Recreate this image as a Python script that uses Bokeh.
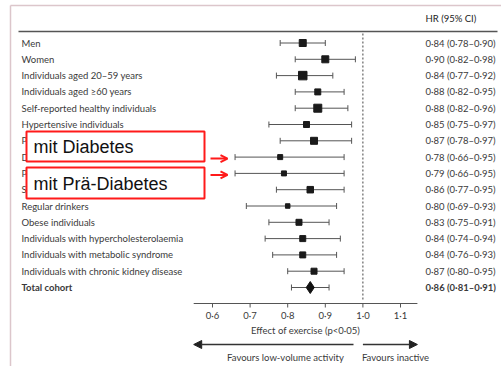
from bokeh.plotting import figure
from bokeh.models import Range1d, ColumnDataSource, Arrow, NormalHead, OpenHead
from bokeh.core.properties import value
from bokeh.embed import file_html
from bokeh.resources import INLINE

# Subgroups, hazard ratios and 95% confidence limits
groups = [
    "Men", "Women", "Individuals aged 20–59 years", "Individuals aged ≥60 years",
    "Self-reported healthy individuals", "Hypertensive individuals",
    "Prehypertensive individuals", "Diabetic individuals", "Prediabetic individuals",
    "Smokers", "Regular drinkers", "Obese individuals",
    "Individuals with hypercholesterolaemia", "Individuals with metabolic syndrome",
    "Individuals with chronic kidney disease", "Total cohort",
]
hr = [0.84, 0.90, 0.84, 0.88, 0.88, 0.85, 0.87, 0.78, 0.79, 0.86, 0.80, 0.83, 0.84, 0.84, 0.87, 0.86]
ci_low = [0.78, 0.82, 0.77, 0.82, 0.82, 0.75, 0.78, 0.66, 0.66, 0.77, 0.69, 0.75, 0.74, 0.76, 0.80, 0.81]
ci_high = [0.90, 0.98, 0.92, 0.95, 0.96, 0.97, 0.97, 0.95, 0.95, 0.95, 0.93, 0.91, 0.94, 0.93, 0.95, 0.91]
# relative weight of each subgroup (marker size in px)
weight = [7, 7, 8.5, 6, 8, 6, 7, 5, 5, 6.5, 4.5, 6, 6, 6, 6, 12]
x_ticks = [0.6, 0.7, 0.8, 0.9, 1.0, 1.1]
callouts = ["mit Diabetes", "mit Prä-Diabetes"]
callout_rows = [7, 8]

W, H = 501, 366
PX_PER_UNIT = 376.0          # pixels per 1.0 HR
X0_PX, X0_VAL = 212.0, 0.6   # where 0.6 sits on the canvas


def xv(px):
    """canvas pixel -> HR-axis value"""
    return X0_VAL + (px - X0_PX) / PX_PER_UNIT


def fmt(v):
    return f"{v:.2f}".replace(".", "·")


ROW0, ROW_STEP = 42.5, 16.3
rows_y = [ROW0 + i * ROW_STEP for i in range(len(groups))]

p = figure(width=W, height=H, output_backend="svg", toolbar_location=None,
           x_range=Range1d(xv(0), xv(W)), y_range=Range1d(H, 0),
           min_border=0, outline_line_color=None, background_fill_color="white")
p.axis.visible = False
p.grid.visible = False

FONT = value("Lato")
TXT = "#3a3a3a"

# page frame
p.segment(x0=[xv(10), xv(10)], y0=[5, 5], x1=[xv(W), xv(10)], y1=[5, H],
          line_color="#dcc6cb", line_width=1.5)

# header
p.text(x=[xv(425)], y=[18], text=["HR (95% CI)"], text_font=FONT,
       text_font_size="9.5px", text_color="#222", text_baseline="middle")
p.segment(x0=[xv(18)], y0=[31], x1=[xv(497)], y1=[31], line_color="#555", line_width=1.3)

# row labels
n = len(groups)
styles = ["normal"] * (n - 1) + ["bold"]
src = ColumnDataSource(dict(
    y=rows_y, name=groups, hr=hr, lo=ci_low, hi=ci_high, size=weight, style=styles,
    lab=[f"{fmt(h)} ({fmt(l)}–{fmt(u)})" for h, l, u in zip(hr, ci_low, ci_high)],
    xl=[xv(21)] * n, xr=[xv(425)] * n,
    ct=[y - 3 for y in rows_y], cb=[y + 3 for y in rows_y],
))
p.text(x="xl", y="y", text="name", source=src, text_font=FONT, text_font_size="9.5px",
       text_color=TXT, text_baseline="middle", text_font_style="style")
p.text(x="xr", y="y", text="lab", source=src, text_font=FONT, text_font_size="9.5px",
       text_color=TXT, text_baseline="middle", text_font_style="style")

# reference line at HR = 1
p.segment(x0=[1.0], y0=[33], x1=[1.0], y1=[300], line_color="#444",
          line_width=1, line_dash="2 2")

# confidence intervals with caps
p.segment(x0="lo", y0="y", x1="hi", y1="y", source=src, line_color="#555", line_width=1)
p.segment(x0="lo", y0="ct", x1="lo", y1="cb", source=src, line_color="#555", line_width=1)
p.segment(x0="hi", y0="ct", x1="hi", y1="cb", source=src, line_color="#555", line_width=1)

# point estimates: squares for subgroups, diamond for the total cohort
sq = ColumnDataSource(dict(x=hr[:-1], y=rows_y[:-1], s=weight[:-1]))
p.scatter(x="x", y="y", size="s", marker="square", source=sq,
          fill_color="#1a1a1a", line_color="#1a1a1a")
p.scatter(x=[hr[-1]], y=[rows_y[-1]], size=weight[-1], marker="diamond",
          fill_color="#111", line_color="#111")

# x axis
AX_Y = 303
p.segment(x0=[0.55], y0=[AX_Y], x1=[1.145], y1=[AX_Y], line_color="#555", line_width=1)
p.segment(x0=x_ticks, y0=[AX_Y] * len(x_ticks), x1=x_ticks, y1=[AX_Y + 4] * len(x_ticks),
          line_color="#555", line_width=1)
p.text(x=x_ticks, y=[315] * len(x_ticks), text=[f"{t:.1f}".replace(".", "·") for t in x_ticks],
       text_font=FONT, text_font_size="9.5px", text_color=TXT,
       text_align="center", text_baseline="middle")
p.text(x=[xv(305)], y=[330], text=["Effect of exercise (p<0·05)"], text_font=FONT,
       text_font_size="9.5px", text_color=TXT, text_align="center", text_baseline="middle")

# direction arrows
p.add_layout(Arrow(end=NormalHead(size=8, fill_color="#222", line_color="#222"),
                   x_start=xv(353), y_start=344, x_end=0.55, y_end=344,
                   line_color="#333", line_width=1.3))
p.add_layout(Arrow(end=NormalHead(size=8, fill_color="#222", line_color="#222"),
                   x_start=1.0, y_start=344, x_end=1.145, y_end=344,
                   line_color="#333", line_width=1.3))
p.text(x=[xv(285), xv(395)], y=[357, 357],
       text=["Favours low-volume activity", "Favours inactive"], text_font=FONT,
       text_font_size="9.5px", text_color=TXT, text_align="center", text_baseline="middle")

# callout boxes over the diabetes rows
box_top = [131, 167]
box_bot = [161, 198]
p.quad(left=[xv(26)] * 2, right=[xv(204)] * 2, top=box_top, bottom=box_bot,
       fill_color="white", line_color="#ff1a1a", line_width=2)
p.text(x=[xv(33)] * 2, y=[(t + b) / 2 + 0.5 for t, b in zip(box_top, box_bot)], text=callouts,
       text_font=value("Liberation Sans"), text_font_size="18px", text_color="#111",
       text_baseline="middle")
for r in callout_rows:
    p.add_layout(Arrow(end=OpenHead(size=7, line_color="#ff1a1a", line_width=2),
                       x_start=xv(210), y_start=rows_y[r] + 1.5,
                       x_end=xv(227), y_end=rows_y[r] + 1.5,
                       line_color="#ff1a1a", line_width=2))

open("out.html", "w").write(file_html(p, INLINE))
